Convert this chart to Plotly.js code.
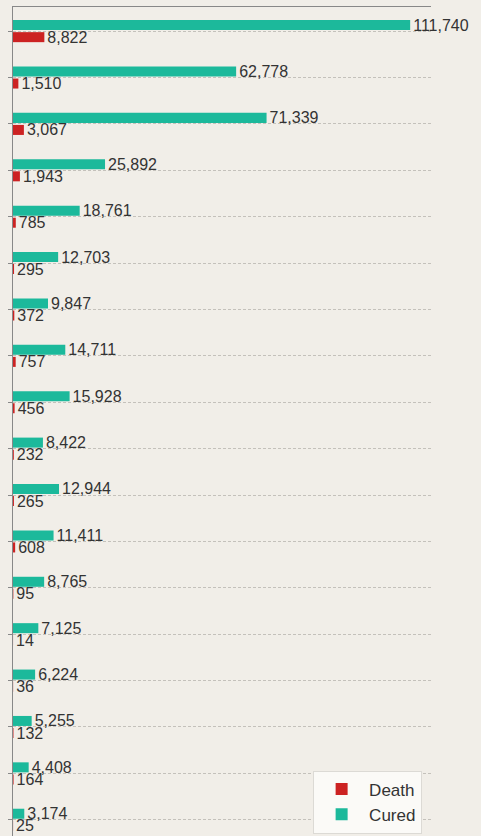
<!DOCTYPE html>
<html>
<head>
<meta charset="utf-8">
<script src="https://cdn.plot.ly/plotly-3.0.1.min.js"></script>
<style>html,body{margin:0;padding:0;background:#f1eee8;overflow:hidden}</style>
</head>
<body>
<div id="chart" style="width:481px;height:836px"></div>
<script>
var categories = ["R1","R2","R3","R4","R5","R6","R7","R8","R9","R10","R11","R12","R13","R14","R15","R16","R17","R18"];
var cured = [111740, 62778, 71339, 25892, 18761, 12703, 9847, 14711, 15928, 8422, 12944, 11411, 8765, 7125, 6224, 5255, 4408, 3174];
var death = [8822, 1510, 3067, 1943, 785, 295, 372, 757, 456, 232, 265, 608, 95, 14, 36, 132, 164, 25];

function fmt(v){ return v.toLocaleString('en-US'); }

var FONT = 'Liberation Sans, Arial, sans-serif';

var traceCured = {
  type: 'bar', orientation: 'h', name: 'Cured',
  y: categories, x: cured,
  text: cured.map(fmt), textposition: 'outside', cliponaxis: false,
  constraintext: 'none',
  textfont: {family: FONT, size: 16, color: '#333'},
  marker: {color: '#1cb99b'},
  hoverinfo: 'none'
};
var traceDeath = {
  type: 'bar', orientation: 'h', name: 'Death',
  y: categories, x: death,
  text: death.map(fmt), textposition: 'outside', cliponaxis: false,
  constraintext: 'none',
  textfont: {family: FONT, size: 16, color: '#333'},
  marker: {color: '#cc2222'},
  hoverinfo: 'none'
};

var layout = {
  width: 481, height: 836,
  margin: {l: 13, r: 50, t: 7, b: 0},
  paper_bgcolor: '#f1eee8', plot_bgcolor: '#f1eee8',
  barmode: 'group', bargap: 0.48, bargroupgap: 0.17,
  font: {family: FONT, size: 16, color: '#333'},
  xaxis: {
    side: 'top', range: [0, 117600], showgrid: false, zeroline: false,
    showline: true, linecolor: '#888', linewidth: 1,
    showticklabels: false, ticks: ''
  },
  yaxis: {
    type: 'category', range: [17.35, -0.52],
    showline: true, linecolor: '#888', linewidth: 1,
    ticks: 'outside', ticklen: 4, tickcolor: '#888',
    showticklabels: false,
    showgrid: true, gridcolor: '#c4c1bb', griddash: '3px,2px', gridwidth: 1
  },
  showlegend: true,
  legend: {
    x: 0.718, y: 0.003, xanchor: 'left', yanchor: 'bottom',
    traceorder: 'reversed', itemwidth: 45,
    bgcolor: '#fbfaf7', bordercolor: '#dcdad5', borderwidth: 1,
    font: {family: FONT, size: 17, color: '#333'}
  }
};

Plotly.newPlot('chart', [traceCured, traceDeath], layout, {displayModeBar: false, staticPlot: true});
</script>
</body>
</html>
